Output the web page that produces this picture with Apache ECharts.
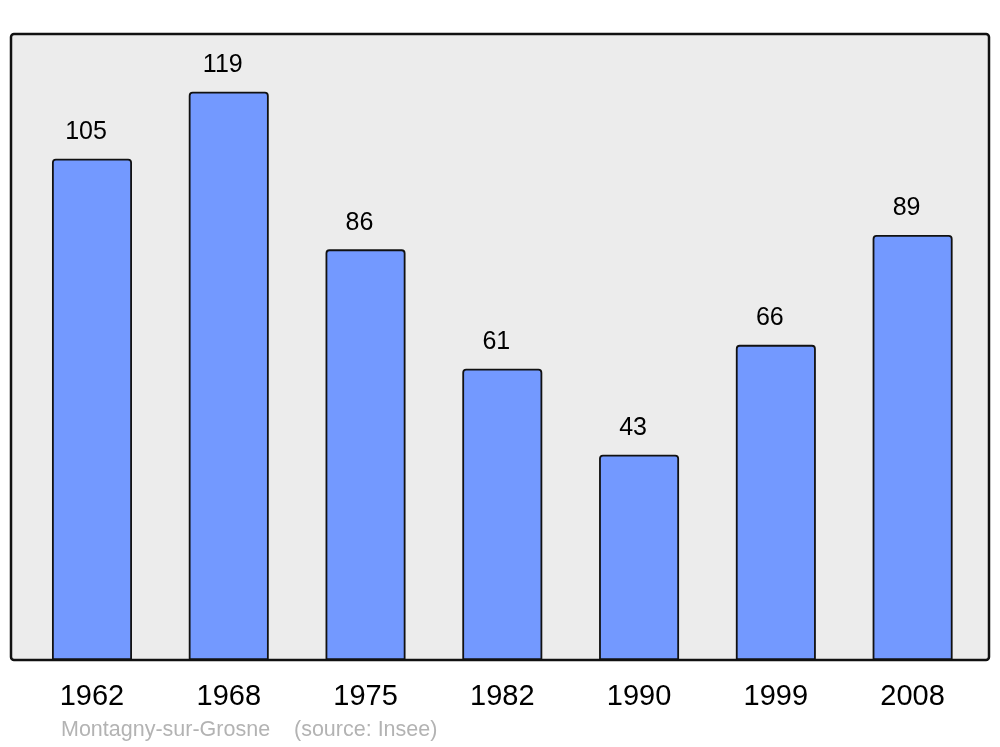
<!DOCTYPE html>
<html>
<head>
<meta charset="utf-8">
<style>html,body{margin:0;padding:0;background:#fff;}#c{width:1000px;height:747px;}</style>
<script src="https://cdn.jsdelivr.net/npm/echarts@6/dist/echarts.min.js"></script>
</head>
<body>
<div id="c"></div>
<script>
var years = ['1962', '1968', '1975', '1982', '1990', '1999', '2008'];
var population = [105, 119, 86, 61, 43, 66, 89];
var footerText = 'Montagny-sur-Grosne    (source: Insee)';

var chart = echarts.init(document.getElementById('c'), null, {renderer: 'canvas'});
chart.setOption({
  animation: false,
  backgroundColor: '#ffffff',
  textStyle: {fontFamily: 'Liberation Sans, Arial, sans-serif'},
  graphic: [
    {type: 'rect', z: -10, shape: {x: 11, y: 34, width: 978, height: 626, r: 3},
     style: {fill: '#ececec', stroke: '#111111', lineWidth: 2.5}},
    {type: 'text', left: 61, top: 719,
     style: {text: footerText, fill: '#b3b3b3', font: '21.5px "Liberation Sans", Arial, sans-serif'}}
  ],
  grid: {left: 23.6, right: 19, top: 34.5, bottom: 87, containLabel: false},
  xAxis: {
    type: 'category', data: years,
    axisLine: {show: false}, axisTick: {show: false},
    axisLabel: {color: '#000', fontSize: 29, margin: 22, fontFamily: 'Liberation Sans, Arial, sans-serif'}
  },
  yAxis: {type: 'value', min: 0, max: 131, show: false, splitLine: {show: false}},
  series: [{
    type: 'bar', data: population, barWidth: 80,
    itemStyle: {color: '#7399ff', borderColor: '#111111', borderWidth: 1.8, borderRadius: [3, 3, 0, 0]},
    label: {show: true, position: 'top', distance: 14, offset: [-6, 0], color: '#000', fontSize: 25,
            fontFamily: 'Liberation Sans, Arial, sans-serif'}
  }]
});
</script>
</body>
</html>
